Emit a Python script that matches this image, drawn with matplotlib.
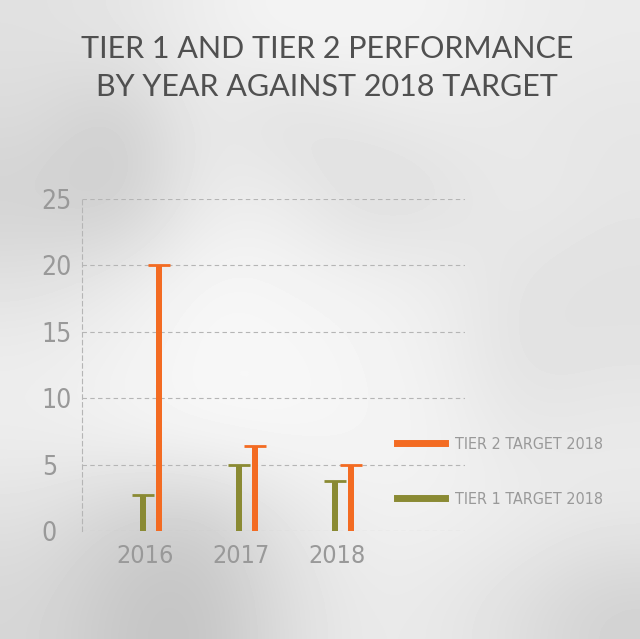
import numpy as np
import matplotlib
matplotlib.use("Agg")
import matplotlib.pyplot as plt

years = ["2016", "2017", "2018"]
tier1 = [2.7, 5.0, 3.8]
tier2 = [20.0, 6.4, 5.0]
yticks = [0, 5, 10, 15, 20, 25]
title = "TIER 1 AND TIER 2 PERFORMANCE\nBY YEAR AGAINST 2018 TARGET"
legend_labels = ["TIER 2 TARGET 2018", "TIER 1 TARGET 2018"]

orange = "#f36b22"
olive = "#8a8a33"
grey_txt = "#999999"
narrow = ["DejaVu Sans"]

fig = plt.figure(figsize=(6.4, 6.39), dpi=100)
fig.patch.set_facecolor("#ececec")

# soft blurred backdrop (decoration only)
bg = np.array([
    [0.88, 0.90, 0.93, 0.96, 0.96, 0.95, 0.93, 0.92],
    [0.86, 0.80, 0.92, 0.87, 0.90, 0.92, 0.91, 0.90],
    [0.82, 0.79, 0.92, 0.93, 0.86, 0.88, 0.92, 0.90],
    [0.88, 0.92, 0.97, 0.96, 0.95, 0.93, 0.89, 0.88],
    [0.93, 0.95, 0.97, 0.97, 0.96, 0.94, 0.88, 0.89],
    [0.93, 0.95, 0.97, 0.97, 0.96, 0.95, 0.91, 0.92],
    [0.88, 0.82, 0.80, 0.89, 0.94, 0.94, 0.93, 0.91],
    [0.84, 0.78, 0.76, 0.86, 0.92, 0.91, 0.87, 0.82],
])
bgax = fig.add_axes([0, 0, 1, 1], zorder=-1)
bgax.imshow(bg, cmap="gray", vmin=0, vmax=1, interpolation="bicubic",
            aspect="auto", extent=[0, 1, 0, 1])
bgax.axis("off")

ax = fig.add_axes([0.128, 0.169, 0.598, 0.520])
ax.patch.set_alpha(0)

x = np.arange(len(years))
x1 = x - 0.02
x2 = x + 0.15
stem = 0.065
cap = 0.115
ax.bar(x1, tier1, width=stem, color=olive, zorder=3)
ax.bar(x2, tier2, width=stem, color=orange, zorder=3)
ax.hlines(tier1, x1 - cap, x1 + cap, color=olive, lw=2, zorder=3)
ax.hlines(tier2, x2 - cap, x2 + cap, color=orange, lw=2, zorder=3)

ax.set_xlim(-0.656, 3.33)
ax.set_ylim(0, 25)
ax.set_yticks(yticks)
ax.set_yticklabels([str(v) for v in yticks], family=narrow, fontsize=19,
                   color=grey_txt, ha="left", fontstretch="condensed")
ax.set_xticks(x)
ax.set_xticklabels(years, family=narrow, fontsize=18, color=grey_txt,
                   fontstretch="condensed")
ax.tick_params(axis="y", length=0, pad=29)
ax.tick_params(axis="x", length=0, pad=9)
ax.grid(axis="y", color="#b5b5b5", ls=(0, (4, 3)), lw=0.8, zorder=0)
for s in ["top", "right", "bottom"]:
    ax.spines[s].set_visible(False)
ax.spines["left"].set_color("#b5b5b5")
ax.spines["left"].set_linestyle((0, (4, 3)))
ax.spines["left"].set_linewidth(0.8)

h2, = ax.plot([], [], color=orange, lw=5)
h1, = ax.plot([], [], color=olive, lw=5)
leg = fig.legend([h2, h1], legend_labels, loc="upper left",
                 bbox_to_anchor=(397 / 640, 1 - 437 / 639), frameon=False,
                 prop={"family": narrow, "size": 11.5, "stretch": "condensed"},
                 labelcolor=grey_txt,
                 handlelength=3.0, handletextpad=0.65, labelspacing=2.5,
                 borderpad=0, borderaxespad=0)

fig.text(0.511, 1 - 68 / 639, title, ha="center", va="center",
         fontsize=22, color="#505050", family=["Lato", "DejaVu Sans"],
         linespacing=1.42)

fig.savefig("out.png", dpi=100, facecolor=fig.get_facecolor())
